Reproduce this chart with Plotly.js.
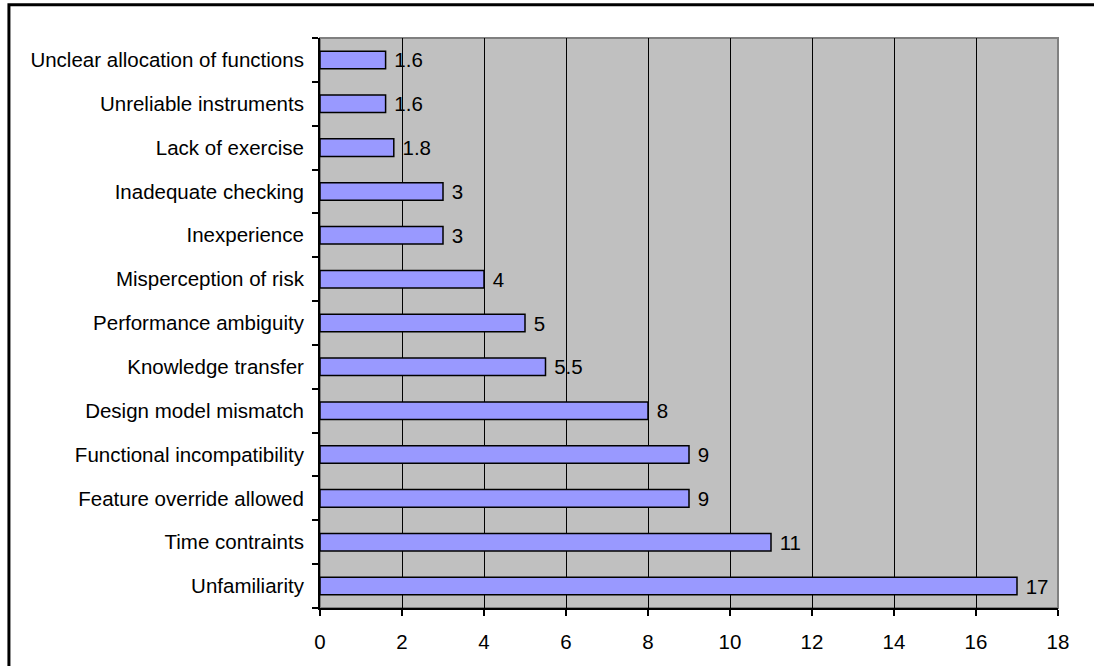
<!DOCTYPE html>
<html>
<head>
<meta charset="utf-8">
<script src="https://cdn.plot.ly/plotly-3.0.1.min.js"></script>
<style>
html,body{margin:0;padding:0;background:#fff;}
#chart{width:1094px;height:666px;}
</style>
</head>
<body>
<div id="chart"></div>
<script>
// Categories listed bottom to top
const categories = [
  "Unfamiliarity",
  "Time contraints",
  "Feature override allowed",
  "Functional incompatibility",
  "Design model mismatch",
  "Knowledge transfer",
  "Performance ambiguity",
  "Misperception of risk",
  "Inexperience",
  "Inadequate checking",
  "Lack of exercise",
  "Unreliable instruments",
  "Unclear allocation of functions"
];
const values = [17, 11, 9, 9, 8, 5.5, 5, 4, 3, 3, 1.8, 1.6, 1.6];
const xTicks = [0, 2, 4, 6, 8, 10, 12, 14, 16, 18];

const font = {family: "Liberation Sans, Arial, sans-serif", size: 20.5, color: "#000"};

const trace = {
  type: "bar",
  orientation: "h",
  y: categories,
  x: values,
  width: 0.4,
  marker: {color: "#9999FF", line: {color: "#000", width: 1.5}},
  text: values.map(v => String(v)),
  texttemplate: "\u00a0%{text}",
  textposition: "outside",
  constraintext: "none",
  textfont: font,
  cliponaxis: false,
  hoverinfo: "none"
};

const layout = {
  width: 1094,
  height: 666,
  margin: {l: 320, r: 36, t: 38, b: 58},
  paper_bgcolor: "#fff",
  plot_bgcolor: "#C0C0C0",
  showlegend: false,
  font: font,
  bargap: 0.6,
  uniformtext: {mode: false},
  xaxis: {
    range: [0, 18],
    tickvals: xTicks,
    ticktext: xTicks.map(String),
    showgrid: true,
    gridcolor: "#000",
    gridwidth: 1,
    zeroline: false,
    showline: true,
    linecolor: "#000",
    linewidth: 2,
    ticks: "outside",
    ticklen: 6,
    tickwidth: 2,
    tickcolor: "#000",
    ticklabelstandoff: 8,
    tickfont: font,
    fixedrange: true
  },
  yaxis: {
    type: "category",
    categoryorder: "array",
    categoryarray: categories,
    showgrid: false,
    zeroline: false,
    showline: true,
    linecolor: "#000",
    linewidth: 2,
    ticks: "outside",
    tickson: "boundaries",
    ticklen: 6,
    tickwidth: 2,
    tickcolor: "#000",
    ticklabelstandoff: 10,
    tickfont: font,
    fixedrange: true
  },
  shapes: [
    {type: "rect", xref: "paper", yref: "paper", x0: 0, x1: 1, y0: 0, y1: 1,
     line: {color: "#808080", width: 2}, fillcolor: "rgba(0,0,0,0)", layer: "below"},
    {type: "rect", xref: "paper", yref: "paper", x0: -0.4215, x1: 1.2, y0: -0.2, y1: 1.0585,
     line: {color: "#000", width: 3}, fillcolor: "rgba(0,0,0,0)", layer: "above"}
  ]
};

Plotly.newPlot("chart", [trace], layout, {displayModeBar: false, staticPlot: true});
</script>
</body>
</html>
